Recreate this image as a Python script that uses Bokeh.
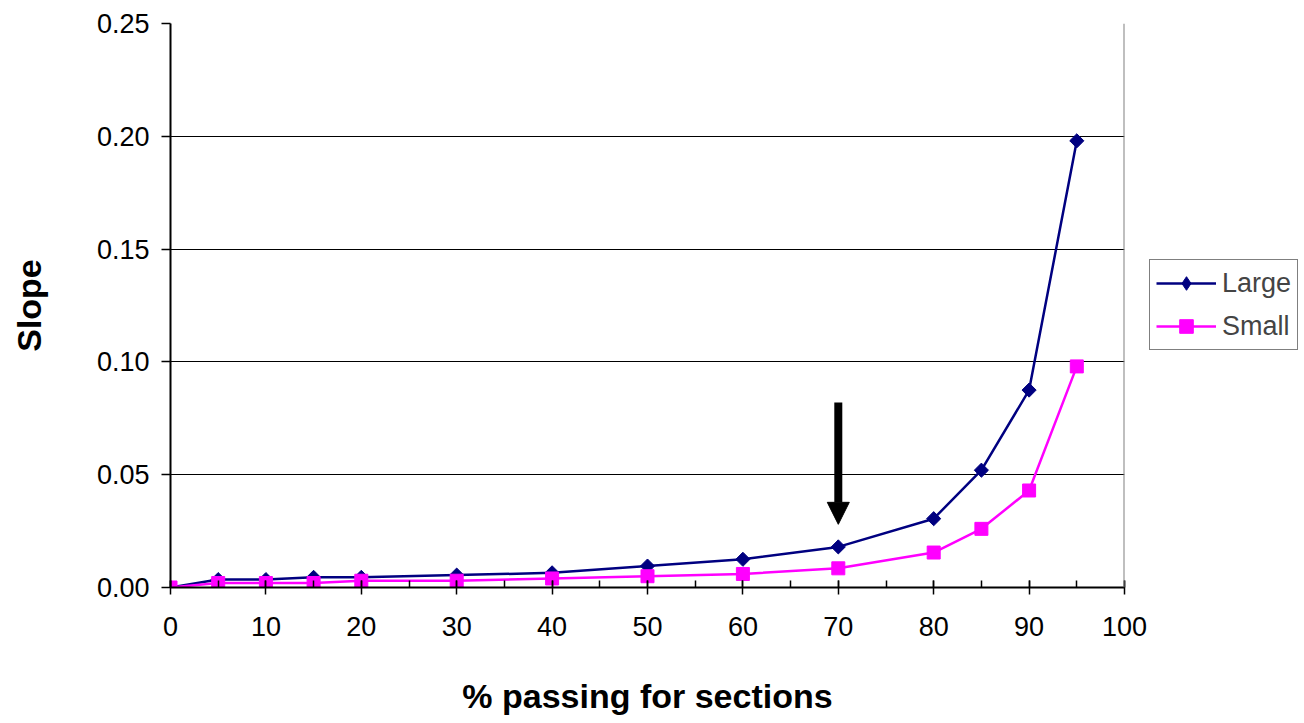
import math
from bokeh.plotting import figure
from bokeh.models import (Range1d, SingleIntervalTicker, NumeralTickFormatter, Legend, LegendItem,
                          Span, Arrow, NormalHead, ColumnDataSource)
from bokeh.embed import file_html
from bokeh.resources import INLINE

x_pct = [0, 5, 10, 15, 20, 30, 40, 50, 60, 70, 80, 85, 90, 95]
large = [0.0, 0.0035, 0.0035, 0.0045, 0.0045, 0.0055, 0.0065, 0.0095, 0.0125, 0.018, 0.0305, 0.052, 0.0875, 0.198]
small = [0.0, 0.002, 0.002, 0.002, 0.003, 0.003, 0.004, 0.005, 0.006, 0.0085, 0.0155, 0.026, 0.043, 0.098]
arrow_x = 70
arrow_top = 0.082
arrow_tip = 0.028

FONT = "Liberation Sans"

p = figure(width=1304, height=723, output_backend="svg", toolbar_location=None,
           x_range=Range1d(0, 100), y_range=Range1d(0, 0.25),
           min_border_left=170, min_border_right=180, min_border_top=23, min_border_bottom=136,
           frame_width=954, frame_height=564)
p.outline_line_color = None
p.background_fill_color = "white"
p.border_fill_color = "white"

src = ColumnDataSource(dict(x=x_pct, large=large, small=small))
l1 = p.line("x", "large", source=src, line_color="#000080", line_width=2.5)
m1 = p.scatter("x", "large", source=src, marker="square", angle=math.pi / 4, size=10,
               fill_color="#000080", line_color="#000080")
l2 = p.line("x", "small", source=src, line_color="#FF00FF", line_width=2.5)
m2 = p.scatter("x", "small", source=src, marker="square", size=13, fill_color="#FF00FF", line_color="#FF00FF")

# legend-only diamond glyph (its single point lies outside the visible ranges)
leg_d = p.scatter(x=[-50], y=[-1], marker="diamond", size=19, fill_color="#000080", line_color="#000080")

p.add_layout(Span(location=100, dimension="height", line_color="#808080", line_width=2))

p.add_layout(Arrow(x_start=arrow_x, y_start=arrow_top, x_end=arrow_x, y_end=arrow_tip,
                   line_color="black", line_width=8,
                   end=NormalHead(size=22, fill_color="black", line_color="black", line_width=1)))

# axes
p.xaxis.ticker = SingleIntervalTicker(interval=10, num_minor_ticks=2)
p.yaxis.ticker = SingleIntervalTicker(interval=0.05, num_minor_ticks=0)
p.yaxis.formatter = NumeralTickFormatter(format="0.00")
for ax in (p.xaxis[0], p.yaxis[0]):
    ax.axis_line_color = "black"
    ax.axis_line_width = 2
    ax.major_tick_line_color = "black"
    ax.major_tick_line_width = 1.5
    ax.minor_tick_line_color = "black"
    ax.minor_tick_line_width = 1.5
    ax.major_label_text_font = FONT
    ax.major_label_text_font_size = "27px"
    ax.major_label_text_color = "black"
    ax.axis_label_text_font = FONT
    ax.axis_label_text_font_size = "34px"
    ax.axis_label_text_font_style = "bold"
    ax.axis_label_text_color = "black"
p.xaxis.major_tick_in = 7
p.xaxis.major_tick_out = 7
p.xaxis.minor_tick_in = 7
p.xaxis.minor_tick_out = 0
p.xaxis.major_label_standoff = 22
p.xaxis.axis_label = "% passing for sections"
p.xaxis.axis_label_standoff = 38
p.yaxis.major_tick_in = 0
p.yaxis.major_tick_out = 9
p.yaxis.minor_tick_line_color = None
p.yaxis.major_label_standoff = 12
p.yaxis.axis_label = "Slope"
p.yaxis.axis_label_standoff = 46

p.xgrid.grid_line_color = None
p.ygrid.grid_line_color = "black"
p.ygrid.grid_line_width = 1

legend = Legend(items=[LegendItem(label="Large", renderers=[l1, leg_d]),
                       LegendItem(label="Small", renderers=[l2, m2])],
                location=(25, 237))
legend.label_text_font = FONT
legend.label_text_font_size = "27px"
legend.label_height = 34
legend.border_line_color = "black"
legend.border_line_width = 1.5
legend.padding = 6
legend.spacing = 9
legend.glyph_width = 60
legend.glyph_height = 34
legend.label_standoff = 6
legend.margin = 0
p.add_layout(legend, "right")

open("out.html", "w").write(file_html(p, INLINE))
